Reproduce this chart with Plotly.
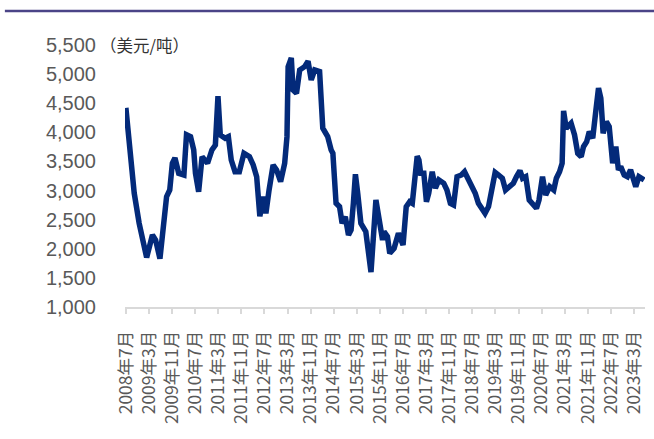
import plotly.graph_objects as go

# Months elapsed since July 2008, and the price read at each of them (USD/ton)
months = [0, 0.8, 2.9, 4.6, 7.2, 9.2, 10.3, 11.8, 13.2, 14.1, 15.2, 16.1, 17.0, 18.3, 20.1,
          21.0, 22.4, 23.5, 24.1, 25.2, 26.4, 28.3, 29.8, 31.0, 31.9, 32.7, 34.4, 35.5, 36.5,
          37.8, 39.3, 40.9, 42.8, 44.1, 45.3, 46.4, 47.6, 48.5, 49.6, 51.0, 52.2, 53.6, 55.0,
          55.8, 56.2, 56.8, 57.3, 57.9, 59.1, 60.2, 61.9, 63.1, 64.2, 65.4, 67.1, 68.2, 69.9,
          71.1, 71.7, 72.8, 74.0, 74.9, 76.0, 77.1, 78.0, 78.8, 79.5, 80.3, 81.4, 83.1, 84.9,
          86.6, 87.7, 88.9, 89.4, 90.6, 91.4, 92.9, 94.4, 96.0, 97.1, 98.3, 99.2, 100.1, 100.9,
          101.5, 102.1, 103.2, 104.1, 104.9, 106.1, 107.2, 108.4, 110.1, 111.2, 112.4, 113.5,
          114.7, 116.2, 117.3, 118.4, 119.6, 121.0, 122.1, 123.3, 124.4, 125.6, 126.7, 127.9,
          129.0, 130.4, 131.5, 133.0, 134.2, 135.3, 136.5, 137.4, 138.5, 139.7, 140.8, 142.2,
          143.1, 144.3, 145.4, 146.8, 148.2, 149.1, 150.2, 151.1, 151.6, 152.5, 154.2, 155.4,
          156.5, 157.7, 158.5, 159.6, 160.5, 161.7, 162.8, 163.7, 164.5, 165.3, 166.4, 167.4,
          168.6, 169.7, 170.6, 171.4, 172.6, 173.7, 174.8, 175.7, 176.6, 177.7, 178.9, 179.5]

price = [4420, 3984, 2953, 2438, 1850, 2237, 2151, 1830, 2438, 2895, 3010, 3469, 3560, 3297, 3268,
         3960, 3926, 3697, 3297, 2981, 3582, 3469, 3697, 3783, 4620, 3955, 3898, 3926, 3525,
         3324, 3324, 3640, 3582, 3440, 3239, 2560, 2895, 2610, 3010, 3440, 3354, 3153, 3469,
         3926, 5128, 5186, 5280, 4728, 4671, 5071, 5128, 5220, 4900, 5071, 5043, 4070, 3926,
         3697, 3640, 2781, 2723, 2438, 2551, 2237, 2323, 2781, 3280, 2953, 2438, 2294, 1600,
         2838, 2551, 2151, 2294, 2209, 1923, 2008, 2266, 2065, 2723, 2809, 2781, 3354, 3590,
         3525, 3297, 3297, 2809, 2953, 3324, 3039, 3182, 3125, 3010, 2781, 2752,
         3239, 3268, 3324, 3211, 3067, 2953, 2781, 2666, 2610, 2723, 3010, 3310,
         3268, 3211, 3010, 3067, 3125, 3239, 3340, 3211, 3239, 2838, 2781, 2695,
         2838, 3239, 2924, 3067, 3010, 3211, 3324, 3469, 4370, 4070, 4156, 3955,
         3640, 3582, 3754, 3840, 4012, 3898, 4384, 4760, 4585, 3984, 4184, 4099,
         3469, 3754, 3354, 3411, 3268, 3239, 3354, 3239, 3067, 3239, 3211, 3182]

# Axis labels, one every eight months
tick_months = list(range(0, 177, 8))
tick_labels = ["2008年7月", "2009年3月", "2009年11月", "2010年7月", "2011年3月", "2011年11月",
               "2012年7月", "2013年3月", "2013年11月", "2014年7月", "2015年3月", "2015年11月",
               "2016年7月", "2017年3月", "2017年11月", "2018年7月", "2019年3月", "2019年11月",
               "2020年7月", "2021年3月", "2021年11月", "2022年7月", "2023年3月"]

y_ticks = [1000, 1500, 2000, 2500, 3000, 3500, 4000, 4500, 5000, 5500]
y_labels = [f"{v:,}" for v in y_ticks]

fig = go.Figure()
fig.add_trace(go.Scatter(
    x=months, y=price, mode="lines",
    line=dict(color="#032a7a", width=5.5),
    hoverinfo="skip", showlegend=False,
))

fig.update_layout(
    width=654, height=439,
    margin=dict(l=125, r=9, t=45, b=132),
    paper_bgcolor="white", plot_bgcolor="white",
    xaxis=dict(
        range=[-0.3, 179.8], tickvals=tick_months, ticktext=tick_labels,
        tickangle=-90, showgrid=False, zeroline=False,
        showline=True, linecolor="#d9d9d9", linewidth=1.5,
        ticks="outside", ticklen=5, tickcolor="#d9d9d9", tickwidth=1.5,
        ticklabelstandoff=10,
        tickfont=dict(family="Noto Sans CJK SC", size=17.5, color="#595959"),
    ),
    yaxis=dict(
        range=[1000, 5500], tickvals=y_ticks, ticktext=y_labels,
        showgrid=False, zeroline=False, showline=False, ticks="",
        ticklabelstandoff=28,
        tickfont=dict(family="Liberation Sans", size=20, color="#595959"),
    ),
    shapes=[dict(
        type="line", xref="paper", yref="paper",
        x0=-0.231, x1=1.02, y0=1.13, y1=1.13,
        line=dict(color="#4b4487", width=2.5),
    )],
    annotations=[dict(
        text="（美元/吨）", xref="paper", yref="paper",
        x=-0.052, y=1.0, xanchor="left", yanchor="middle",
        showarrow=False,
        font=dict(family="Noto Sans CJK SC", size=16.5, color="#333333"),
    )],
)

fig.write_html("out.html")
